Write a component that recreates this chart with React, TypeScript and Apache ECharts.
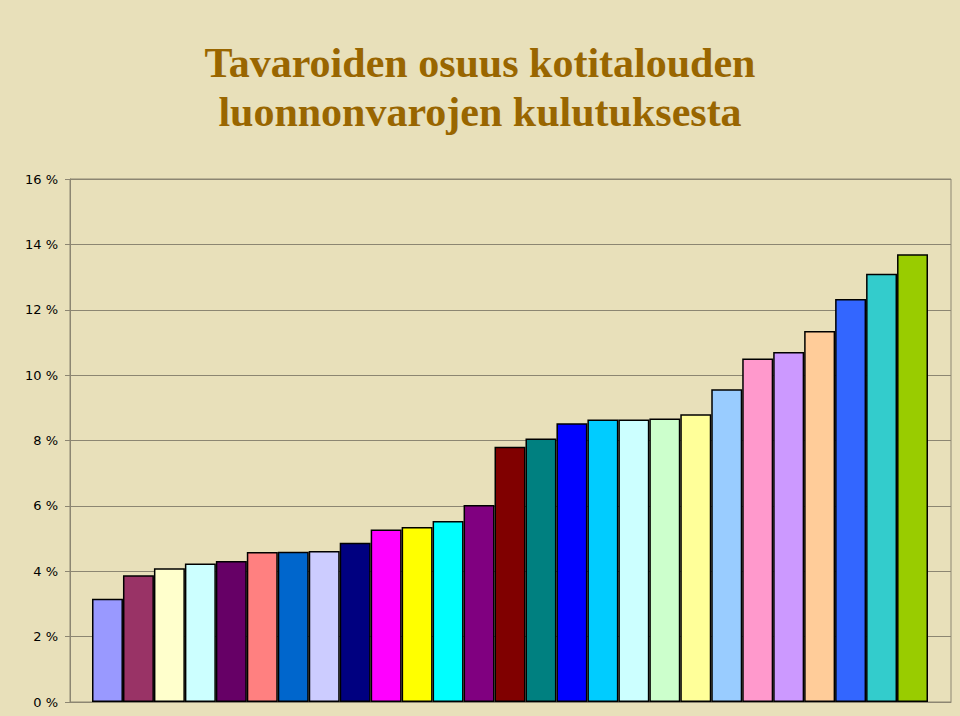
import React, { useEffect, useRef } from "react";
import * as echarts from "echarts";

const categories = [
  "1", "2", "3", "4", "5", "6", "7", "8", "9", "10", "11", "12", "13", "14",
  "15", "16", "17", "18", "19", "20", "21", "22", "23", "24", "25", "26", "27",
];
const values = [
  3.16, 3.88, 4.09, 4.24, 4.31, 4.59, 4.6, 4.62, 4.87, 5.28, 5.35, 5.54, 6.03,
  7.81, 8.06, 8.53, 8.64, 8.64, 8.67, 8.8, 9.57, 10.51, 10.71, 11.35, 12.33,
  13.1, 13.7,
];
const barColors = [
  "#9999FF", "#993366", "#FFFFCC", "#CCFFFF", "#660066", "#FF8080", "#0066CC",
  "#CCCCFF", "#000080", "#FF00FF", "#FFFF00", "#00FFFF", "#800080", "#800000",
  "#008080", "#0000FF", "#00CCFF", "#CCFFFF", "#CCFFCC", "#FFFF99", "#99CCFF",
  "#FF99CC", "#CC99FF", "#FFCC99", "#3366FF", "#33CCCC", "#99CC00",
];
const titleLines = ["Tavaroiden osuus kotitalouden", "luonnonvarojen kulutuksesta"];
const yMin = 0;
const yMax = 16;
const yStep = 2;

export default function App() {
  const ref = useRef<HTMLDivElement>(null);
  useEffect(() => {
    if (!ref.current) return;
    const chart = echarts.init(ref.current, undefined, { renderer: "svg" });
    const lineColor = "#8C8672";
    chart.setOption({
      animation: false,
      backgroundColor: "#E8E0BA",
      title: {
        text: titleLines.join("\n"),
        left: "center",
        top: 33,
        textStyle: {
          fontFamily: "Liberation Serif",
          fontWeight: "bold",
          fontSize: 42,
          lineHeight: 49,
          color: "#996600",
        },
      },
      grid: [
        {
          left: 70,
          right: 9,
          top: 179,
          bottom: 14,
          show: true,
          borderColor: lineColor,
          borderWidth: 1,
          backgroundColor: "transparent",
        },
        { left: 92, right: 32, top: 179, bottom: 14 },
      ],
      xAxis: [
        {
          type: "category",
          gridIndex: 0,
          data: categories,
          axisLine: { show: true, lineStyle: { color: lineColor } },
          axisTick: { show: false },
          axisLabel: { show: false },
        },
        {
          type: "category",
          gridIndex: 1,
          data: categories,
          show: false,
          boundaryGap: true,
        },
      ],
      yAxis: [
        {
          type: "value",
          gridIndex: 0,
          min: yMin,
          max: yMax,
          interval: yStep,
          axisLine: { show: true, lineStyle: { color: lineColor } },
          axisTick: { show: true, length: 5, lineStyle: { color: lineColor } },
          axisLabel: {
            formatter: "{value} %",
            color: "#000",
            fontFamily: "DejaVu Sans",
            fontSize: 13,
            margin: 12,
          },
          splitLine: { show: true, lineStyle: { color: lineColor, width: 1 } },
        },
        {
          type: "value",
          gridIndex: 1,
          min: yMin,
          max: yMax,
          interval: yStep,
          show: false,
          splitLine: { show: false },
        },
      ],
      series: [
        {
          type: "bar",
          xAxisIndex: 1,
          yAxisIndex: 1,
          barWidth: "100%",
          barCategoryGap: "0%",
          data: values.map((v, i) => ({
            value: v,
            itemStyle: { color: barColors[i] },
          })),
          itemStyle: { borderColor: "#000", borderWidth: 1.5 },
        },
      ],
    });
    return () => chart.dispose();
  }, []);
  return (
    <div
      ref={ref}
      style={{ position: "fixed", left: 0, top: 0, width: 960, height: 716 }}
    />
  );
}
